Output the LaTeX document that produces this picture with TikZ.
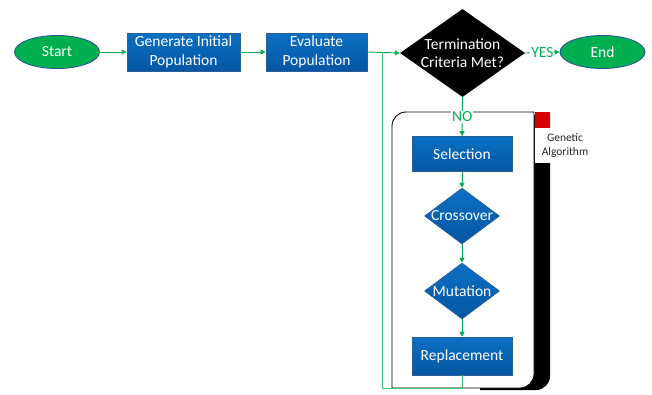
\documentclass[tikz,border=0pt]{standalone}
\usepackage{fontspec}
\setmainfont{Carlito}
\usetikzlibrary{shapes.geometric,arrows.meta}
\definecolor{gr}{HTML}{00B050}
\definecolor{grl}{HTML}{3CC070}
\definecolor{blt}{HTML}{0B70C4}
\definecolor{blb}{HTML}{0556A2}
\definecolor{bld}{HTML}{2A5E96}
\definecolor{ov}{HTML}{2F5597}
\definecolor{lbl}{HTML}{262626}
\begin{document}
\begin{tikzpicture}[x=1pt,y=-1pt,
  mainfont/.style={font=\fontsize{15.5}{18.5}\selectfont},
  oval/.style={ellipse, draw=ov, line width=0.9pt, fill=gr, text=white, minimum width=85pt, minimum height=33pt, inner sep=0pt, mainfont},
  bbox/.style={rectangle, draw=bld, line width=0.6pt, top color=blt, bottom color=blb, text=white, align=center, inner sep=0pt, mainfont},
  bdia/.style={diamond, draw=bld, line width=0.6pt, top color=blt, bottom color=blb, inner sep=0pt, minimum width=75pt, minimum height=56pt},
  wtext/.style={text=white, align=center, mainfont},
  conn/.style={draw=gr, line width=0.9pt, -{Triangle[length=5pt,width=5pt]}},
  glabel/.style={text=gr, fill=white, inner sep=1pt, mainfont}]
\useasboundingbox (0,0) rectangle (652,394);

% container with shadow
\fill[black] (480,115) -- (550,115) [rounded corners=14pt] -- (550,390) [sharp corners] -- (480,390) -- cycle;
\draw[black, line width=0.9pt, fill=white] (392,388) [rounded corners=14pt] -- (392,112) [sharp corners] -- (534,112) [rounded corners=14pt] -- (534,388) [sharp corners] -- cycle;
\fill[white] (534.5,128) rectangle (552,163);
\fill[red!85!black] (534.5,112) rectangle (550,128);
\node[text=lbl, align=center, font=\fontsize{11.5}{14}\selectfont, inner sep=0pt] (ga) at (565,146) {Genetic\\Algorithm};

% nodes
\node[oval] (start) at (57,52) {Start};
\node[bbox, minimum width=113pt, minimum height=38pt] (gen) at (183.5,52) {Generate Initial\\Population};
\node[bbox, minimum width=101pt, minimum height=38pt] (eval) at (316.5,52) {Evaluate\\Population};
\node[diamond, fill=black, inner sep=0pt, minimum width=125pt, minimum height=88pt] (term) at (462.5,53) {};
\node[wtext] at (term.center) {Termination\\Criteria Met?};
\node[oval] (end) at (602.5,52) {End};

\node[bbox, minimum width=100pt, minimum height=35pt] (sel) at (462,154) {Selection};
\node[bdia] (cross) at (462,216) {};
\node[wtext] at (cross.center) {Crossover};
\node[bdia] (mut) at (462,291) {};
\node[wtext] at (mut.center) {Mutation};
\node[bbox, minimum width=100pt, minimum height=38pt] (rep) at (462,356) {Replacement};

\coordinate (lb) at (382,388);
\coordinate (lt) at (382,52);

% connectors
\draw[conn] (start) -- (gen);
\draw[conn] (gen) -- (eval);
\draw[conn] (eval.east |- lt) -- (term.west);
\draw[conn] (term.east) -- node[glabel] {YES} (end.west);
\draw[conn] (term.south) -- node[glabel, pos=0.5] {NO} (sel.north);
\draw[conn] (sel) -- (cross);
\draw[conn] (cross) -- (mut);
\draw[conn] (mut) -- (rep);
\draw[draw=grl, line width=0.8pt] (rep.south) |- (lb) -- (lt);
\end{tikzpicture}
\end{document}
